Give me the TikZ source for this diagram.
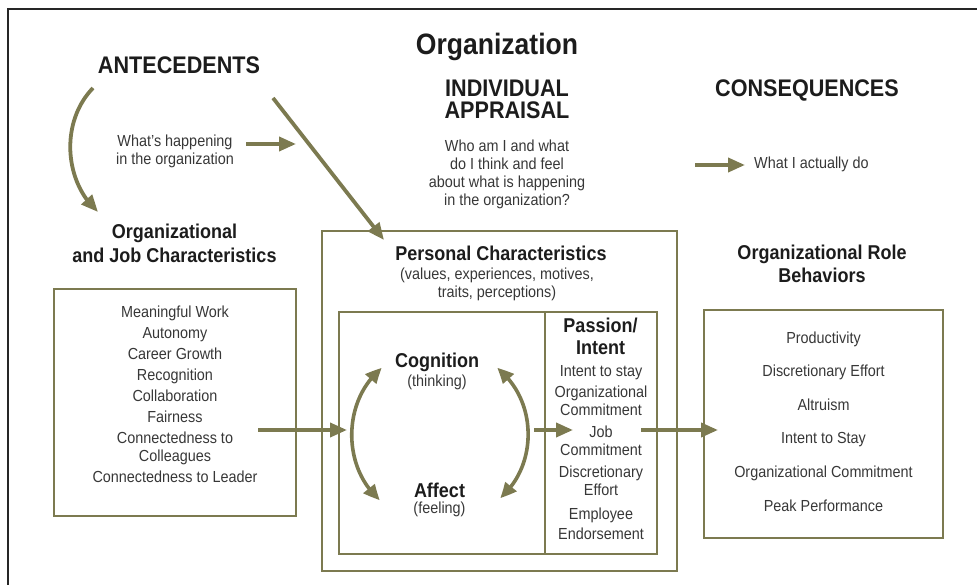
\documentclass[tikz,border=0pt]{standalone}
\usepackage{fontspec}
\setmainfont{Liberation Sans}[FakeStretch=0.9]
\usetikzlibrary{arrows.meta,bending}
\definecolor{myolive}{RGB}{124,122,80}
\definecolor{txtgray}{RGB}{55,55,55}
\definecolor{hdblack}{RGB}{28,28,28}
\tikzset{
  boxstyle/.style={draw=myolive, line width=1.8pt, inner sep=0pt},
  arr/.style={draw=myolive, line width=3.8pt, -{Triangle[length=17pt,width=14pt]}},
  dblarr/.style={draw=myolive, line width=3.6pt, {Triangle[length=16pt,width=14pt,bend]}-{Triangle[length=16pt,width=14pt,bend]}},
  txt/.style={text=txtgray, font=\fontsize{16}{18}\selectfont, align=center, anchor=base, inner sep=0pt},
  hd/.style={text=hdblack, font=\bfseries\fontsize{24}{22}\selectfont, align=center, anchor=base, inner sep=0pt},
  subhd/.style={text=hdblack, font=\bfseries\fontsize{20}{24}\selectfont, align=center, anchor=base, inner sep=0pt},
}
\begin{document}
\begin{tikzpicture}[x=1pt,y=-1pt]
\useasboundingbox (0,0) rectangle (977,585);
% outer frame
\draw[line width=1.3pt, draw=black!85] (977,9) -- (8,9) -- (8,585);

% headings (base anchor = baseline of last line)
\node[text=hdblack, font=\bfseries\fontsize{29.5}{30}\selectfont, anchor=base, inner sep=0pt] (org) at (497,55) {Organization};
\node[hd] (ante) at (179,74) {ANTECEDENTS};
\node[hd] (indiv) at (507,119) {INDIVIDUAL\\APPRAISAL};
\node[hd] (cons) at (807,97) {CONSEQUENCES};

\node[txt] (happen) at (175,165) {What's happening\\in the organization};
\node[txt] (who) at (507,206) {Who am I and what\\do I think and feel\\about what is happening\\in the organization?};
\node[txt, anchor=base west] (do) at (754,169) {What I actually do};

\node[subhd] (ojc) at (174.5,263) {Organizational\\and Job Characteristics};
\node[subhd] (pc) at (501,260.5) {Personal Characteristics};
\node[txt] (pcsub) at (497,298) {(values, experiences, motives,\\traits, perceptions)};
\node[subhd, font=\bfseries\fontsize{20}{23}\selectfont] (orb) at (822,283) {Organizational Role\\Behaviors};

% boxes
\node[boxstyle, minimum width=242, minimum height=227] (jobbox) at (175,402.5) {};
\node[boxstyle, minimum width=355, minimum height=340] (persbox) at (499.5,401) {};
\node[boxstyle, minimum width=318, minimum height=242] (innerbox) at (498,433) {};
\node[boxstyle, minimum width=112, minimum height=242] (passbox) at (601,433) {};
\node[boxstyle, minimum width=239, minimum height=228] (rolebox) at (823.5,424) {};

% box contents
\node[txt, font=\fontsize{16}{21}\selectfont] (jobitems) at (175,482) {Meaningful Work\\Autonomy\\Career Growth\\Recognition\\Collaboration\\Fairness\\Connectedness to\\[-3pt]Colleagues\\Connectedness to Leader};

\node[subhd] (cog) at (437,367) {Cognition};
\node[txt] (think) at (437,386) {(thinking)};
\node[subhd] (aff) at (439.5,497) {Affect};
\node[txt] (feel) at (439.5,513) {(feeling)};

\node[subhd, font=\bfseries\fontsize{20}{22}\selectfont] (pass) at (600.5,354) {Passion/\\Intent};
\node[txt] (passitems) at (601,539) {Intent to stay\\[3pt]Organizational\\Commitment\\[4pt]Job\\Commitment\\[4pt]Discretionary\\Effort\\[6pt]Employee\\[2pt]Endorsement};

\node[txt, font=\fontsize{16}{33.6}\selectfont] (roleitems) at (823.5,511) {Productivity\\Discretionary Effort\\Altruism\\Intent to Stay\\Organizational Commitment\\Peak Performance};

% connector end points
\coordinate (c1s) at (93,88);   \coordinate (c1e) at (98,212);
\coordinate (d1s) at (273,98);  \coordinate (d1e) at (384,240);
\coordinate (h1s) at (246,144); \coordinate (h1e) at (296,144);
\coordinate (w1s) at (695,165); \coordinate (w1e) at (745,165);
\coordinate (j1s) at (258,430); \coordinate (j1e) at (347,430);
\coordinate (p1s) at (534,430); \coordinate (p1e) at (573,430);
\coordinate (r1s) at (641,430); \coordinate (r1e) at (718,430);
\coordinate (cl1) at (382,368); \coordinate (cl2) at (380,500);
\coordinate (cr1) at (497,368); \coordinate (cr2) at (500,498);

% connectors
\draw[arr] (c1s) .. controls (60,122) and (64,182) .. (c1e);
\draw[arr] (d1s) -- (d1e);
\draw[arr] (h1s) -- (h1e);
\draw[arr] (w1s) -- (w1e);
\draw[arr] (j1s) -- (j1e);
\draw[arr] (p1s) -- (p1e);
\draw[arr] (r1s) -- (r1e);
\draw[dblarr] (cl1) .. controls (342,400) and (342,468) .. (cl2);
\draw[dblarr] (cr1) .. controls (538,400) and (538,466) .. (cr2);
\end{tikzpicture}
\end{document}
